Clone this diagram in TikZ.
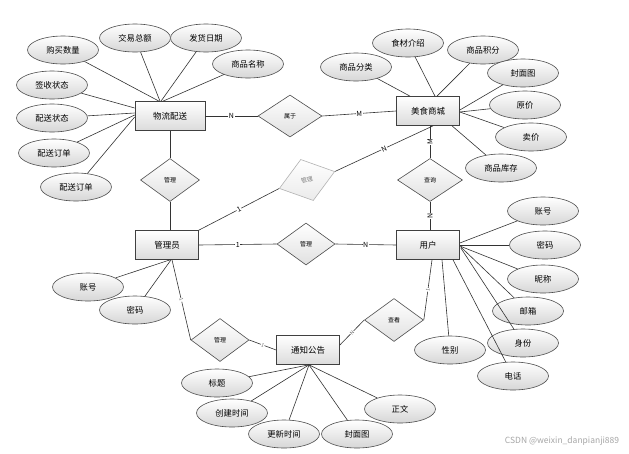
\documentclass[tikz,border=0pt]{standalone}
\usepackage{fontspec}
\setmainfont{Noto Sans CJK SC}
\usetikzlibrary{shapes.geometric,calc}
\begin{document}
\begin{tikzpicture}[x=1pt,y=-1pt,
  ent/.style={rectangle,draw=black!75,line width=0.7pt,top color=white,bottom color=black!14,minimum width=63,minimum height=29,inner sep=0,font=\fontsize{8.5}{9}\selectfont},
  attr/.style={ellipse,draw=black!70,line width=0.6pt,top color=white,bottom color=black!16,minimum width=71,minimum height=28,inner sep=0,font=\fontsize{8.3}{9}\selectfont},
  rel/.style={diamond,draw=black!70,line width=0.6pt,top color=white,bottom color=black!12,minimum width=59,minimum height=43,inner sep=0,font=\fontsize{6}{6}\selectfont},
  ln/.style={draw=black!80,line width=0.6pt},
  lab/.style={fill=white,inner sep=0.6pt,font=\fontsize{7}{7}\selectfont},
  slab/.style={fill=white,inner sep=0.4pt,font=\fontsize{5}{5}\selectfont,text=black!60}]
\useasboundingbox (0,0) rectangle (629,453);
\fill[white] (0,0) rectangle (629,453);

% entities
\node[ent,minimum width=70] (wl) at (170,116) {物流配送};
\node[ent] (ms) at (428,111) {美食商城};
\node[ent] (gl) at (167,245) {管理员};
\node[ent] (yh) at (428,245) {用户};
\node[ent] (tz) at (308,350) {通知公告};

% relationships
\node[rel,minimum width=64,minimum height=42] (d0) at (290,116) {属于};
\node[rel] (d1) at (170,180) {管理};
\node[rel,minimum width=58,minimum height=42] (d2) at (306,244) {管理};
\node[rel,minimum width=58] (d3) at (220,340) {管理};
\node[rel] (d4) at (394,320) {查看};
\node[rel,minimum width=65] (d5) at (430,180) {查询};
\node[diamond,draw=black!30,line width=0.6pt,top color=white,bottom color=black!8,minimum width=58,minimum height=43,inner sep=0,rotate=17,font=\fontsize{6}{6}\selectfont,text=black!50] (dg) at (307,180) {管理};

% attributes of 物流配送
\node[attr] (a1) at (63,50) {购买数量};
\node[attr] (a2) at (135,38) {交易总额};
\node[attr] (a3) at (206,38) {发货日期};
\node[attr] (a4) at (248,64) {商品名称};
\node[attr] (a5) at (52,85) {签收状态};
\node[attr] (a6) at (52,118) {配送状态};
\node[attr] (a7) at (54,153) {配送订单};
\node[attr] (a8) at (76,187) {配送订单};

% attributes of 美食商城
\node[attr] (b1) at (356,67) {商品分类};
\node[attr] (b2) at (408,43) {食材介绍};
\node[attr] (b3) at (483,50) {商品积分};
\node[attr] (b4) at (523,73) {封面图};
\node[attr] (b5) at (525,105) {原价};
\node[attr] (b6) at (531,137) {卖价};
\node[attr] (b7) at (501,168) {商品库存};

% attributes of 用户
\node[attr] (c1) at (543,211) {账号};
\node[attr] (c2) at (545,245) {密码};
\node[attr] (c3) at (543,279) {昵称};
\node[attr] (c4) at (528,311) {邮箱};
\node[attr] (c5) at (523,343) {身份};
\node[attr] (c6) at (513,376) {电话};
\node[attr] (c7) at (450,350) {性别};

% attributes of 管理员
\node[attr] (e1) at (88,287) {账号};
\node[attr] (e2) at (135,310) {密码};

% attributes of 通知公告
\node[attr] (f1) at (217,383) {标题};
\node[attr] (f2) at (232,413) {创建时间};
\node[attr] (f3) at (284,434) {更新时间};
\node[attr] (f4) at (357,434) {封面图};
\node[attr] (f5) at (400,409) {正文};

% watermark
\node[font=\fontsize{8.5}{9}\selectfont,text=black!35] (wm) at (562,441) {CSDN @weixin\_danpianji889};

% attribute links
\begin{scope}[on background layer/.style={}]
\foreach \a/\s in {a1/-11,a2/-10,a3/-9,a4/-7}
  \draw[ln] (\a) -- ([xshift=\s]wl.north);
\foreach \a/\s in {a5/8,a6/3,a7/1,a8/-1}
  \draw[ln] (\a) -- ([yshift=\s pt]wl.west);
\draw[ln] (b1) -- ([xshift=-18]ms.north);
\draw[ln] (b2) -- ([xshift=7]ms.north);
\draw[ln] (b3) -- ([xshift=9]ms.north);
\draw[ln] (b4) -- ([yshift=1pt]ms.east);
\draw[ln] (b5) -- ([yshift=-1pt]ms.east);
\draw[ln] (b6) -- ([yshift=-1pt]ms.east);
\draw[ln] (b7) -- ([xshift=24]ms.south);
\draw[ln] (c1) -- ([yshift=2pt]yh.east);
\draw[ln] (c2) -- (yh.east);
\draw[ln] (c3) -- ([yshift=-1pt]yh.east);
\draw[ln] (c4) -- ([xshift=1,yshift=-2pt]yh.east);
\draw[ln] (c5) -- ([xshift=1,yshift=-3pt]yh.east);
\draw[ln] (c6) -- ([xshift=25]yh.south);
\draw[ln] (c7) -- ([xshift=14]yh.south);
\draw[ln] (e1) -- ([xshift=3]gl.south);
\draw[ln] (e2) -- ([xshift=4]gl.south);
\foreach \f in {f1,f2,f3,f4,f5}
  \draw[ln] (\f) -- ([xshift=1]tz.south);
\end{scope}

% relationship links
\draw[ln] (wl.east) -- node[lab] {N} (d0.west);
\draw[ln] (d0.east) -- node[lab] {M} (ms.west);
\draw[ln] (wl.south) -- (d1.north);
\draw[ln] (d1.south) -- (d1 |- gl.north);
\draw[ln] (gl.east) -- node[lab] {1} (d2.west);
\draw[ln] (d2.east) -- node[lab] {N} (yh.west);
\draw[ln] (d5.north) -- node[lab,rotate=90] {M} (d5 |- ms.south);
\draw[ln] (d5.south) -- node[lab,rotate=90] {N} (d5 |- yh.north);
\draw[ln] (gl.north east) -- node[lab,sloped] {1} (dg.west);
\draw[ln] (dg.east) -- node[lab,sloped] {N} ([xshift=5]ms.south);
\draw[ln] ([xshift=5]gl.south) -- node[slab,sloped] {1} (d3.west);
\draw[ln] (d3.east) -- node[slab,sloped] {1} (tz.west);
\draw[ln] ([yshift=5pt]tz.east) -- node[slab,sloped] {N} (d4.west);
\draw[ln] (d4.east) -- node[slab,sloped] {1} ([xshift=4]yh.south);
\end{tikzpicture}
\end{document}
